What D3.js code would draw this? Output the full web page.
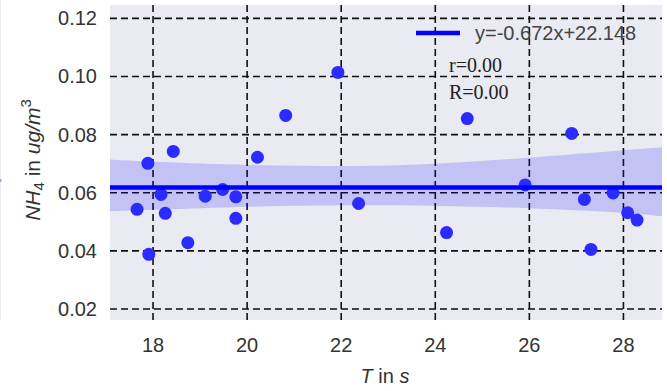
<!DOCTYPE html>
<html>
<head>
    <meta charset="UTF-8">
    <title>NH4 vs T</title>
    <script src="https://d3js.org/d3.v7.min.js"></script>
    <style>
        body { margin: 0; padding: 0; background: #fff; overflow: hidden; }
        svg { display: block; }
        .tick-label { font: 20px "Liberation Sans", Arial, sans-serif; fill: #333; }
        .grid line { stroke: #111; stroke-width: 1.6px; stroke-dasharray: 7,4; }
        .serif { font: 20px "Liberation Serif", "Times New Roman", serif; fill: #222; }
    </style>
</head>
<body>
<svg width="667" height="391"></svg>
<script>
    // measured points: T (s) and NH4 (ug/m3)
    const tValues = [17.66, 17.89, 17.91, 18.17, 18.26, 18.43, 18.74, 19.11, 19.48, 19.76, 19.76, 20.22,
                     20.82, 21.93, 22.37, 24.24, 24.68, 25.91, 26.90, 27.17, 27.31, 27.78, 28.09, 28.29];
    const nh4Values = [0.0543, 0.0701, 0.0388, 0.0594, 0.0529, 0.0742, 0.0428, 0.0588, 0.0611, 0.0586, 0.0512, 0.0722,
                       0.0866, 0.1014, 0.0563, 0.0463, 0.0855, 0.0627, 0.0804, 0.0577, 0.0405, 0.0599, 0.0531, 0.0506];

    // fitted line and its confidence band
    const fitX = [17.085, 28.82];
    const fitY = [0.0618, 0.0618];
    const bandX = [17.085, 18, 20, 22.5, 24, 26, 28, 28.82];
    const bandLow = [0.0536, 0.0541, 0.0553, 0.0558, 0.0555, 0.0548, 0.0532, 0.0519];
    const bandHigh = [0.0714, 0.0706, 0.0694, 0.0690, 0.0698, 0.0720, 0.0746, 0.0756];

    const xTicks = [18, 20, 22, 24, 26, 28];
    const yTicks = [0.02, 0.04, 0.06, 0.08, 0.10, 0.12];
    const legendText = "y=-0.672x+22.148";
    const statsText = ["r=0.00", "R=0.00"];

    const svg = d3.select("svg");
    const plot = {left: 110, right: 662, top: 5, bottom: 320};

    const x = d3.scaleLinear().domain([17.085, 28.82]).range([plot.left, plot.right]);
    const y = d3.scaleLinear().domain([0.0162, 0.1246]).range([plot.bottom, plot.top]);

    // faint edge of neighbouring panel
    svg.append("line")
        .attr("x1", 0.5).attr("x2", 0.5).attr("y1", 0).attr("y2", plot.bottom)
        .attr("stroke", "#ececec");
    svg.append("rect")
        .attr("x", 0).attr("y", 179).attr("width", 1.5).attr("height", 3)
        .attr("fill", "#a0a0ff");

    // background
    svg.append("rect")
        .attr("x", plot.left).attr("y", plot.top)
        .attr("width", plot.right - plot.left).attr("height", plot.bottom - plot.top)
        .attr("fill", "#eaeaf2");

    // grid
    const grid = svg.append("g").attr("class", "grid");
    grid.selectAll(".gx").data(xTicks).enter().append("line")
        .attr("x1", d => x(d)).attr("x2", d => x(d))
        .attr("y1", plot.top).attr("y2", plot.bottom);
    grid.selectAll(".gy").data(yTicks).enter().append("line")
        .attr("x1", plot.left).attr("x2", plot.right)
        .attr("y1", d => y(d)).attr("y2", d => y(d));

    // confidence band
    const band = d3.area()
        .x((d, i) => x(bandX[i]))
        .y0((d, i) => y(bandLow[i]))
        .y1((d, i) => y(bandHigh[i]))
        .curve(d3.curveBasis);
    svg.append("path")
        .datum(bandX)
        .attr("d", band)
        .attr("fill", "#0000ff")
        .attr("fill-opacity", 0.17);

    // points
    svg.append("g").selectAll("circle")
        .data(tValues).enter().append("circle")
        .attr("cx", d => x(d))
        .attr("cy", (d, i) => y(nh4Values[i]))
        .attr("r", 6.5)
        .attr("fill", "#2b2bff");

    // regression line
    svg.append("line")
        .attr("x1", x(fitX[0])).attr("x2", x(fitX[1]))
        .attr("y1", y(fitY[0])).attr("y2", y(fitY[1]))
        .attr("stroke", "#0000ff")
        .attr("stroke-width", 4.5);

    // tick labels
    svg.append("g").selectAll("text")
        .data(xTicks).enter().append("text")
        .attr("class", "tick-label")
        .attr("x", d => x(d)).attr("y", 352)
        .attr("text-anchor", "middle")
        .text(d => d);
    svg.append("g").selectAll("text")
        .data(yTicks).enter().append("text")
        .attr("class", "tick-label")
        .attr("x", 97).attr("y", d => y(d))
        .attr("dy", "0.35em")
        .attr("text-anchor", "end")
        .text(d => d3.format(".2f")(d));

    // x label
    const xl = svg.append("text")
        .attr("class", "tick-label")
        .attr("x", 385).attr("y", 383)
        .attr("font-size", "21px")
        .attr("text-anchor", "middle");
    xl.append("tspan").attr("font-style", "italic").text("T");
    xl.append("tspan").text(" in ");
    xl.append("tspan").attr("font-style", "italic").text("s");

    // y label
    const yl = svg.append("text")
        .attr("class", "tick-label")
        .attr("transform", "translate(40,160) rotate(-90)")
        .style("font-size", "21px")
        .attr("text-anchor", "middle");
    yl.append("tspan").attr("font-style", "italic").text("NH");
    yl.append("tspan").style("font-size", "15px").attr("dy", 4).text("4");
    yl.append("tspan").attr("dy", -4).text(" in ");
    yl.append("tspan").attr("font-style", "italic").text("ug/m");
    yl.append("tspan").style("font-size", "15px").attr("dy", -9).text("3");

    // legend
    svg.append("line")
        .attr("x1", 416).attr("x2", 460).attr("y1", 33).attr("y2", 33)
        .attr("stroke", "#0000ff").attr("stroke-width", 4.5);
    svg.append("text")
        .attr("class", "tick-label")
        .attr("x", 475).attr("y", 40)
        .style("fill", "#444")
        .text(legendText);

    svg.append("g").selectAll("text")
        .data(statsText).enter().append("text")
        .attr("class", "serif")
        .attr("x", 449).attr("y", (d, i) => 72 + i * 27)
        .text(d => d);
</script>
</body>
</html>
